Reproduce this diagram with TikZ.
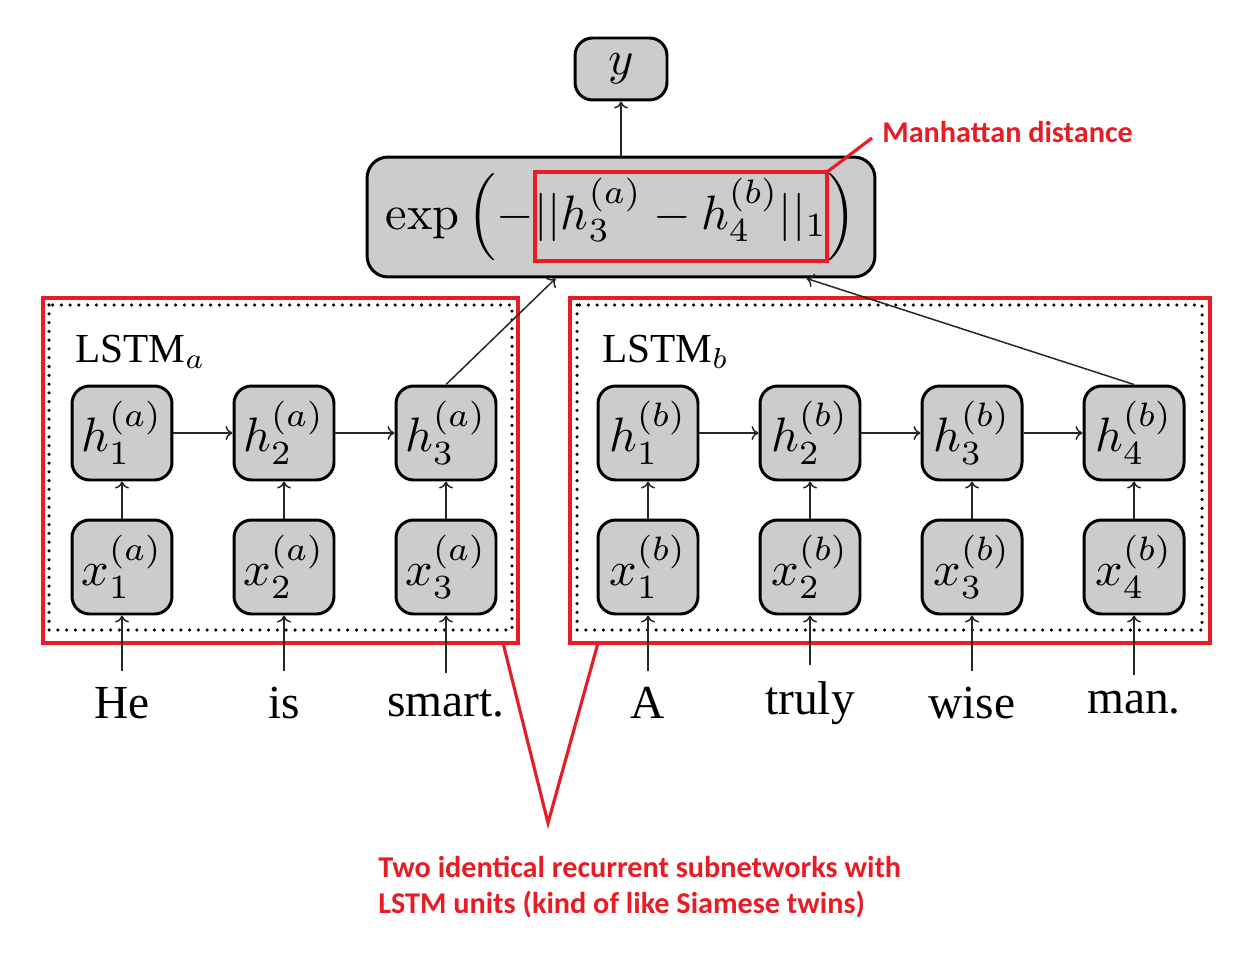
\RequirePackage{fix-cm}
\documentclass[tikz,border=0pt]{standalone}
\usepackage[no-math]{fontspec}
\setmainfont{Liberation Serif}
\newfontfamily\redfont{Carlito}
\usetikzlibrary{arrows.meta,calc}
\definecolor{boxgray}{RGB}{204,204,204}
\definecolor{annred}{RGB}{232,28,36}
\newcommand\mth[1]{\scalebox{2.75}{$#1$}}
\begin{document}
\begin{tikzpicture}[x=0.02cm,y=-0.02cm,
  unit/.style={draw=black, line width=1.7pt, fill=boxgray, rounded corners=10pt,
    minimum width=2cm, minimum height=1.88cm, inner sep=0pt},
  word/.style={font=\fontsize{27}{32}\selectfont, inner sep=0.32cm},
  arr/.style={draw=black!85, line width=0.85pt, -{To[length=4pt,width=8pt]}},
  redline/.style={draw=annred, line width=1.8pt},
  dotbox/.style={draw=black, line width=2pt, line cap=round, dash pattern=on 0pt off 5pt},
  lstmlab/.style={anchor=base west, inner sep=0pt},
  redtext/.style={anchor=base west, inner sep=0pt, text=annred,
    font=\redfont\bfseries\fontsize{17.2}{20}\selectfont},
]
\useasboundingbox (0,0) rectangle (1260,956);

% enclosing boxes
\draw[dotbox] (49,305) rectangle (512,630);
\draw[dotbox] (577,305) rectangle (1202,630);
\draw[redline] (43,298) rectangle (518,643);
\draw[redline] (570,298) rectangle (1210,643);

\node[lstmlab] (la) at (75,362) {\scalebox{2.35}{LSTM$_a$}};
\node[lstmlab] (lb) at (602,362) {\scalebox{2.35}{LSTM$_b$}};

% top nodes
\node[unit, minimum width=1.84cm, minimum height=1.24cm] (yout) at (621,69) {\mth{y}};
\node[unit, minimum width=10.16cm, minimum height=2.4cm, rounded corners=12pt] (dist) at (621,217)
  {\mth{\exp\left(-||h_3^{(a)} - h_4^{(b)}||_1\right)}};

% LSTM a
\foreach \i/\xx in {1/122,2/284,3/446} {
  \node[unit] (ha\i) at (\xx,433) {\mth{h_{\i}^{(a)}}};
  \node[unit] (xa\i) at (\xx,567) {\mth{x_{\i}^{(a)}}};
}
% LSTM b
\foreach \i/\xx in {1/648,2/810,3/972,4/1134} {
  \node[unit] (hb\i) at (\xx,433) {\mth{h_{\i}^{(b)}}};
  \node[unit] (xb\i) at (\xx,567) {\mth{x_{\i}^{(b)}}};
}

% words
\node[word] (wa1) at (122,703) {He};
\node[word] (wa2) at (284,703) {is};
\node[word] (wa3) at (446,703) {smart.};
\node[word] (wb1) at (648,703) {A};
\node[word] (wb2) at (810,703) {truly};
\node[word] (wb3) at (972,703) {wise};
\node[word] (wb4) at (1134,703) {man.};

% connectors
\foreach \i in {1,2,3} {
  \draw[arr] (xa\i) -- (ha\i);
  \draw[arr] (wa\i) -- (xa\i);
}
\foreach \i in {1,2,3,4} {
  \draw[arr] (xb\i) -- (hb\i);
  \draw[arr] (wb\i) -- (xb\i);
}
\draw[arr] (ha1) -- (ha2);
\draw[arr] (ha2) -- (ha3);
\draw[arr] (hb1) -- (hb2);
\draw[arr] (hb2) -- (hb3);
\draw[arr] (hb3) -- (hb4);
\draw[arr] (ha3.north) -- ($(dist.south west)+(190,0)$);
\draw[arr] (hb4.north) -- ($(dist.south west)+(441,0)$);
\draw[arr] (dist) -- (yout);

% annotations
\draw[redline] (535,172) rectangle (827,261);
\coordinate (mdend) at (872,138);
\draw[redline] (827,172) -- (mdend);
\node[redtext] (md) at (882,143) {Manhattan distance};

\draw[redline, line join=miter] (503,643) -- (548,823) -- (598,643);
\node[redtext] (tw1) at (378,877) {Two identical recurrent subnetworks with};
\node[redtext] (tw2) at (378,913) {LSTM units (kind of like Siamese twins)};
\end{tikzpicture}
\end{document}
